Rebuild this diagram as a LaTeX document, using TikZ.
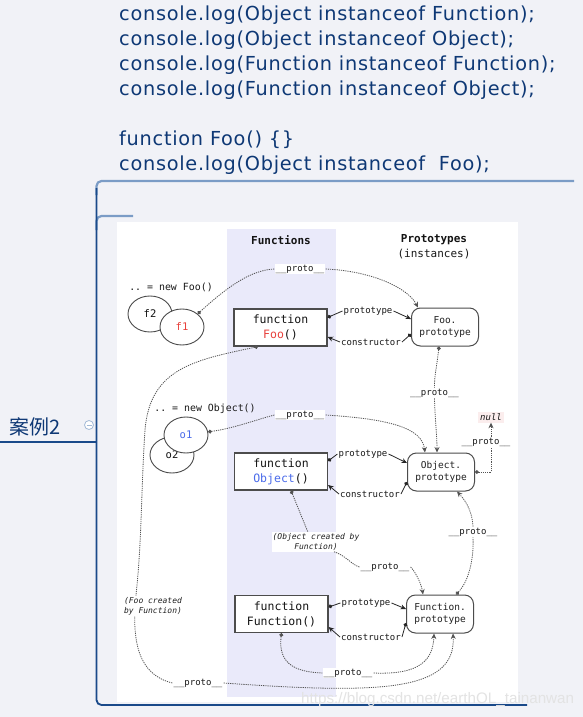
\documentclass[tikz,border=0pt]{standalone}
\usepackage{fontspec}
\setmonofont{DejaVu Sans Mono}
\setsansfont{Liberation Sans}
\newfontfamily\mapfont[LetterSpace=3.8]{DejaVu Sans}
\newfontfamily\cjk{Noto Sans CJK SC}
\usetikzlibrary{arrows.meta,shapes.geometric}

\definecolor{mapbg}{HTML}{F1F2F7}
\definecolor{mapblue}{HTML}{1A4A8A}
\definecolor{maptext}{HTML}{0E3875}
\definecolor{maplight}{HTML}{7B9CC6}
\definecolor{fncol}{HTML}{EAEAFA}
\definecolor{fooRed}{HTML}{E8413C}
\definecolor{objBlue}{HTML}{4A6BEA}
\definecolor{nullbg}{HTML}{FBEDED}

\tikzset{
  fnbox/.style={draw=gray!60!black, line width=1.2pt, fill=white, minimum width=93pt, minimum height=37pt,
    inner sep=0pt, align=center, text=gray!15!black, font=\ttfamily\fontsize{11.5}{15}\selectfont},
  protobox/.style={draw=gray!60!black, line width=1pt, rounded corners=9pt, fill=white, minimum width=67pt,
    minimum height=38pt, inner sep=0pt, align=center, text=gray!25!black, font=\ttfamily\fontsize{9.5}{12.5}\selectfont},
  instance/.style={ellipse, draw=gray!60!black, line width=0.9pt, fill=white, minimum width=44pt,
    minimum height=36pt, inner sep=0pt, text=gray!15!black, font=\ttfamily\fontsize{10.5}{12}\selectfont},
  lbl/.style={fill=white, inner sep=1pt, text=gray!20!black, font=\ttfamily\fontsize{9}{10}\selectfont},
  note/.style={inner sep=0pt, text=gray!20!black, font=\ttfamily\fontsize{9.9}{12}\selectfont},
  aside/.style={fill=white, inner sep=1pt, text=gray!25!black, font=\ttfamily\itshape\fontsize{8}{10}\selectfont},
  head/.style={inner sep=0pt, text=gray!15!black, font=\ttfamily\bfseries\fontsize{11}{13}\selectfont},
  ptr/.style={draw=gray!65!black, line width=0.8pt, dash pattern=on 1.2pt off 1pt},
  rel/.style={draw=gray!30!black, line width=0.8pt},
  from dot/.style={{Circle[length=3.8pt]}-},
  to tip/.style={-{Stealth[length=5.5pt,width=5pt]}}
}

\begin{document}
\begin{tikzpicture}[x=1pt,y=-1pt]
			%%%%% START %%%%%
			
			\fill[mapbg] (0,0) rectangle (583,717);
			\useasboundingbox (0,0) rectangle (583,717);
			
			\node[anchor=north west, inner sep=0pt, align=left, text=maptext, font=\mapfont\fontsize{19.3}{25}\selectfont] (code) at (119,6)
			  {console.log(Object instanceof Function);\\
			   console.log(Object instanceof Object);\\
			   console.log(Function instanceof Function);\\
			   console.log(Function instanceof Object);\\[25pt]
			   function Foo() \{\}\\
			   console.log(Object instanceof\ \ Foo);};
			
			\draw[maplight, line width=2.2pt, rounded corners=5pt] (96.5,195) -- (96.5,181) -- (574,181);
			\draw[maplight, line width=2.2pt, rounded corners=5pt] (96.5,230) -- (96.5,216) -- (133,216);
			\draw[mapblue, line width=1.8pt, rounded corners=5pt] (96.5,188) -- (96.5,705) -- (527,705);
			\draw[mapblue, line width=1.8pt] (0,442) -- (96.5,442);
			
			\node[anchor=base west, inner sep=0pt, text=maptext, font=\cjk\fontsize{20}{24}\selectfont] (case) at (9,434) {案例2};
			\draw[maplight!70, line width=0.8pt, fill=white] (89,425) circle (4.5);
			\draw[maplight!70, line width=0.8pt] (86.5,425) -- (91.5,425);
			
			\fill[white] (117,222) rectangle (518,702);
			\fill[fncol] (227,229) rectangle (336,697);
			
			\node[head] (fnhead) at (281,240) {Functions};
			\node[head] (prhead) at (434,240) {Prototypes};
			\node[note, font=\ttfamily\fontsize{11}{13}\selectfont] (insthead) at (434,254) {(instances)};
			
			% boxes
			\node[fnbox] (foo) at (280.5,327.5) {function\\\textcolor{fooRed}{Foo}()};
			\node[protobox] (fooproto) at (445,327) {Foo.\\prototype};
			\node[fnbox] (obj) at (281,471.5) {function\\\textcolor{objBlue}{Object}()};
			\node[protobox] (objproto) at (441,472) {Object.\\prototype};
			\node[fnbox] (fun) at (281.5,614) {function\\Function()};
			\node[protobox] (funproto) at (440,614) {Function.\\prototype};
			
			\node[instance] (f2) at (150,314) {f2};
			\node[instance, text=fooRed] (f1) at (182,327) {f1};
			\node[note] (newfoo) at (171,287) {.. = new Foo()};
			\node[instance] (o2) at (172,455) {o2};
			\node[instance, text=objBlue] (o1) at (186,435) {o1};
			\node[note] (newobj) at (205,409) {.. = new Object()};
			
			\node[fill=nullbg, inner sep=2pt, text=gray!15!black, font=\ttfamily\itshape\fontsize{9}{10}\selectfont] (null) at (491,417) {null};
			
			% prototype / constructor
			\node[lbl] (prfoo) at (368,311) {prototype};
			\draw[rel, from dot] ([yshift=10pt]foo.east) -- (prfoo.west);
			\draw[rel, to tip] (prfoo.east) -- ([yshift=8pt]fooproto.west);
			\node[lbl] (cofoo) at (371,342) {constructor};
			\draw[rel, from dot] ([yshift=-7pt]fooproto.west) -- (cofoo.east);
			\draw[rel, to tip] (cofoo.west) -- ([yshift=-9.5pt]foo.east);
			
			\node[lbl] (probj) at (363,454) {prototype};
			\draw[rel, from dot] ([yshift=10.5pt]obj.east) -- (probj.west);
			\draw[rel, to tip] (probj.east) -- ([yshift=9pt]objproto.west);
			\node[lbl] (coobj) at (370,494) {constructor};
			\draw[rel, from dot] ([yshift=-10pt]objproto.west) -- (coobj.east);
			\draw[rel, to tip] (coobj.west) -- ([yshift=-13.5pt]obj.east);
			
			\node[lbl] (prfun) at (366,603) {prototype};
			\draw[rel, from dot] ([yshift=7pt]fun.east) -- (prfun.west);
			\draw[rel, to tip] (prfun.east) -- ([yshift=5pt]funproto.west);
			\node[lbl] (cofun) at (371,637) {constructor};
			\draw[rel, from dot] ([yshift=-9pt]funproto.west) -- (cofun.east);
			\draw[rel, to tip] (cofun.west) -- ([yshift=-13pt]fun.east);
			
			% __proto__ chains
			\node[lbl] (pf1) at (300,269) {\_\_proto\_\_};
			\draw[ptr, from dot] (f1.40) .. controls (222,292) and (248,270) .. (pf1.west);
			\draw[ptr, to tip] (pf1.east) .. controls (372,271) and (408,288) .. ([xshift=-27pt]fooproto.north);
			
			\node[lbl] (pfoo) at (434.5,393) {\_\_proto\_\_};
			\draw[ptr, from dot] ([xshift=-6pt]fooproto.south) .. controls (437,365) and (434,378) .. (pfoo.north);
			\draw[ptr, to tip] (pfoo.south) .. controls (435,420) and (437,435) .. ([xshift=-4pt]objproto.north);
			
			\node[lbl] (po1) at (300,415) {\_\_proto\_\_};
			\draw[ptr, from dot] (o1.8) .. controls (235,428) and (255,420) .. (po1.west);
			\draw[ptr, to tip] (po1.east) .. controls (390,419) and (422,428) .. ([xshift=-16pt]objproto.north);
			
			\node[lbl] (pobj) at (486,442) {\_\_proto\_\_};
			\draw[ptr, from dot] (objproto.east) -| (pobj.south -| null.south);
			\draw[ptr, to tip] (pobj.north -| null.south) -- (null.south);
			
			\node[aside, align=center] (objby) at (316,542) {(Object created by\\Function)};
			\draw[ptr, from dot] ([xshift=10pt]obj.south) -- ([xshift=-8pt]objby.north);
			\node[lbl] (pobjfn) at (385,567) {\_\_proto\_\_};
			\draw[ptr] ([xshift=18pt]objby.south) .. controls (345,555) and (352,565) .. (pobjfn.west);
			\draw[ptr, to tip] (pobjfn.east) .. controls (414,570) and (421,582) .. ([xshift=-17pt]funproto.north);
			
			\node[lbl] (pfnobj) at (473,532) {\_\_proto\_\_};
			\draw[ptr, from dot] ([xshift=16pt]funproto.north) .. controls (470,580) and (474,555) .. (pfnobj.south);
			\draw[ptr, to tip] (pfnobj.north) .. controls (472,508) and (463,498) .. ([xshift=16pt]objproto.south);
			
			\node[lbl] (pfnfn) at (348,673) {\_\_proto\_\_};
			\draw[ptr, from dot] (fun.south) .. controls (278,663) and (294,672) .. (pfnfn.west);
			\draw[ptr, to tip] (pfnfn.east) .. controls (420,675) and (433,660) .. ([xshift=-6pt]funproto.south);
			
			\node[lbl] (pfoofn) at (198,683) {\_\_proto\_\_};
			\draw[ptr, from dot] ([xshift=-22.5pt]foo.south) .. controls (195,360) and (150,368) .. (145,430)
			  .. controls (141,490) and (142,540) .. (136,595) .. controls (131,645) and (140,675) .. (pfoofn.west);
			\draw[ptr, to tip] (pfoofn.east) .. controls (380,694) and (456,692) .. ([xshift=13pt]funproto.south);
			\node[aside, align=left] (foofn) at (153,606) {(Foo created\\by Function)};
			
			\node[anchor=base west, inner sep=0pt, text=gray!22, font=\sffamily\fontsize{15.2}{18}\selectfont] (mark) at (301,703) {https://blog.csdn.net/earthOL\_tainanwan};
			
			%%%%% END %%%%%
\end{tikzpicture}
\end{document}
